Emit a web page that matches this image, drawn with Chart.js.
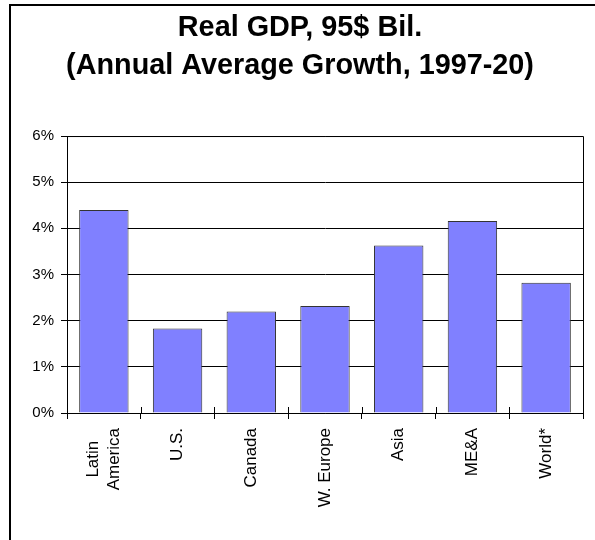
<!DOCTYPE html>
<html>
<head>
<meta charset="utf-8">
<title>Real GDP, 95$ Bil.</title>
<script src="https://cdn.jsdelivr.net/npm/chart.js@4/dist/chart.umd.min.js"></script>
<style>
  html, body { margin: 0; padding: 0; background: #fff; overflow: hidden; }
  #wrap { position: relative; width: 595px; height: 540px; }
  #frame {
    position: absolute; left: 9px; top: 4px; width: 700px; height: 700px;
    border-top: 2px solid #000; border-left: 2px solid #000;
    pointer-events: none;
  }
</style>
</head>
<body>
<div id="wrap">
  <canvas id="gdpChart" width="595" height="540"></canvas>
  <div id="frame"></div>
</div>
<script>
const titleLines = ['Real GDP, 95$ Bil.', '(Annual Average Growth, 1997-20)'];
const regions = [['Latin', 'America'], 'U.S.', 'Canada', 'W. Europe', 'Asia', 'ME&A', 'World*'];
const growth = [4.40, 1.83, 2.20, 2.32, 3.63, 4.16, 2.82];
const yTicks = [0, 1, 2, 3, 4, 5, 6];

const FONT = '"Liberation Sans", Arial, sans-serif';
const LABEL_SIZE = 17;
const LABEL_LH = 1.25;

// two-line category labels: centre the lines on the tick and on each other
const centerMultiLine = {
  id: 'centerMultiLine',
  beforeDraw(chart) {
    const items = chart.scales.x.getLabelItems();
    const ctx = chart.ctx;
    ctx.save();
    ctx.font = LABEL_SIZE + 'px ' + FONT;
    items.forEach(item => {
      const o = item.options;
      if (!Array.isArray(item.label) || item._centered) return;
      const widest = Math.max(...item.label.map(s => ctx.measureText(s).width));
      o.translation[0] -= (LABEL_SIZE * LABEL_LH) / 2;
      o.translation[1] += widest / 2;
      o.textAlign = 'center';
      item._centered = true;
    });
    ctx.restore();
  }
};

// box round the plot area plus the small inward ticks on the category axis
const plotFrame = {
  id: 'plotFrame',
  afterDraw(chart) {
    const { ctx, chartArea } = chart;
    const x = chart.scales.x;
    ctx.save();
    ctx.strokeStyle = '#000';
    ctx.lineWidth = 1;
    ctx.beginPath();
    ctx.moveTo(chartArea.left, chartArea.top + 0.5);
    ctx.lineTo(chartArea.right + 0.5, chartArea.top + 0.5);
    ctx.lineTo(chartArea.right + 0.5, chartArea.bottom);
    for (let i = 0; i <= regions.length; i++) {
      const px = Math.round(x.getPixelForValue(i - 0.5)) + 0.5;
      ctx.moveTo(px, chartArea.bottom);
      ctx.lineTo(px, chartArea.bottom - 6);
    }
    ctx.stroke();
    ctx.restore();
  }
};

new Chart(document.getElementById('gdpChart'), {
  type: 'bar',
  data: {
    labels: regions,
    datasets: [{
      data: growth,
      backgroundColor: '#8080ff',
      borderColor: '#333',
      borderWidth: 1,
      barPercentage: 0.67,
      categoryPercentage: 1
    }]
  },
  options: {
    responsive: false,
    animation: false,
    layout: { padding: { left: 17, right: 12, top: 0, bottom: 0 } },
    plugins: {
      legend: { display: false },
      tooltip: { enabled: false },
      title: {
        display: true,
        text: titleLines,
        color: '#000',
        font: { family: FONT, size: 28.8, weight: 'bold', lineHeight: 1.32 },
        padding: { top: 9, bottom: 51 }
      }
    },
    scales: {
      x: {
        afterFit: scale => { scale.height = 127; },
        grid: { drawOnChartArea: false, drawTicks: true, tickLength: 6, color: '#000', offset: true },
        border: { color: '#000', width: 1 },
        ticks: {
          color: '#000',
          font: { family: FONT, size: LABEL_SIZE, lineHeight: LABEL_LH },
          maxRotation: 90,
          minRotation: 90,
          padding: 9,
          autoSkip: false
        }
      },
      y: {
        min: 0,
        max: 6,
        afterFit: scale => { scale.width = 50; },
        afterBuildTicks: scale => { scale.ticks = yTicks.map(v => ({ value: v })); },
        grid: { color: '#000', tickLength: 6, lineWidth: 1 },
        border: { color: '#000', width: 1 },
        ticks: {
          color: '#000',
          font: { family: FONT, size: 15 },
          padding: 7,
          callback: value => value + '%'
        }
      }
    }
  },
  plugins: [centerMultiLine, plotFrame]
});
</script>
</body>
</html>
